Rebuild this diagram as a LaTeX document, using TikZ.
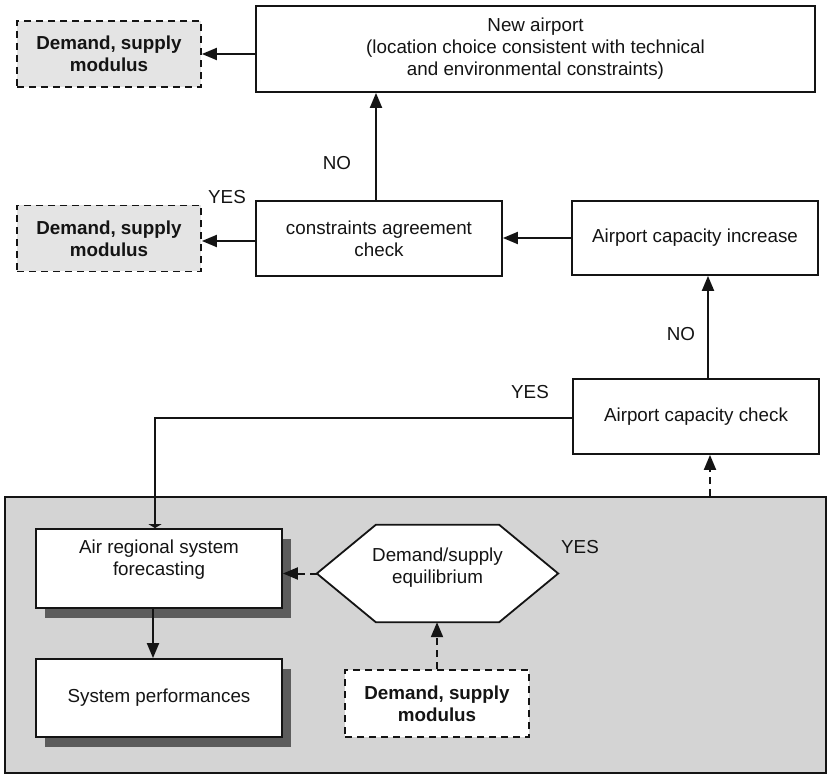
\documentclass[tikz,border=0pt]{standalone}
\usepackage{fontspec}
\setmainfont{Liberation Sans}
\usetikzlibrary{arrows.meta,shadows,calc}
\definecolor{regiongray}{RGB}{212,212,212}
\definecolor{modgray}{RGB}{228,228,228}
\definecolor{shadowgray}{RGB}{92,92,92}
\definecolor{inkc}{RGB}{20,20,20}
\begin{document}
\begin{tikzpicture}[x=1pt,y=-1pt,
  txt/.style={font=\fontsize{18.8}{22}\selectfont, text=inkc},
  procbox/.style={txt, draw=inkc, line width=1.8pt, fill=white, align=center, inner sep=0pt},
  modbox/.style={procbox, dash pattern=on 7pt off 5pt, font=\fontsize{18.8}{22}\selectfont\bfseries},
  shadowed/.style={drop shadow={shadow xshift=9pt, shadow yshift=-10pt, fill=shadowgray, opacity=1}},
  flow/.style={draw=inkc, line width=2pt, -{Triangle[length=15pt,width=12pt]}},
  dflow/.style={flow, dash pattern=on 7pt off 5pt},
  lbl/.style={txt, inner sep=0pt}
]
\useasboundingbox (0,0) rectangle (828,775);

% system region
\node[draw=inkc, line width=1.6pt, fill=regiongray, minimum width=821pt, minimum height=276pt, inner sep=0pt] (sys) at (415.5,635) {};

% boxes
\node[procbox, minimum width=559pt, minimum height=86pt] (NA) at (535.5,49)
  {New airport\\(location choice consistent with technical\\and environmental constraints)};
\node[modbox, fill=modgray, minimum width=184pt, minimum height=66pt] (DS1) at (109,54) {Demand, supply\\modulus};
\node[modbox, fill=modgray, minimum width=184pt, minimum height=66pt] (DS2) at (109,238.5) {Demand, supply\\modulus};
\node[procbox, minimum width=246pt, minimum height=75pt] (CA) at (379,238.5) {constraints agreement\\check};
\node[procbox, minimum width=246pt, minimum height=74pt] (CI) at (695,238) {Airport capacity increase};
\node[procbox, minimum width=246pt, minimum height=75pt] (CC) at (696,416.5) {Airport capacity check};
\node[procbox, shadowed, minimum width=246pt, minimum height=79pt] (F) at (159,568.5) {Air regional system\\forecasting\\\mbox{}};
\node[procbox, shadowed, minimum width=246pt, minimum height=78pt] (P) at (159,698) {System performances};
\node[txt, align=center, minimum width=241pt, minimum height=97pt, inner sep=0pt] (H) at (437.5,573.5) {Demand/supply\\equilibrium\\[-7pt]\mbox{}};
\fill[white] (H.west) -- ($(H.north west)+(59,0)$) -- ($(H.north east)+(-59,0)$) -- (H.east) -- ($(H.south east)+(-59,0)$) -- ($(H.south west)+(59,0)$) -- cycle;
\node[txt, align=center, inner sep=0pt] at (H.center) {Demand/supply\\equilibrium\\[-7pt]\mbox{}};
\draw[inkc, line width=1.8pt, line join=miter] (H.west) -- ($(H.north west)+(59,0)$) -- ($(H.north east)+(-59,0)$) -- (H.east) -- ($(H.south east)+(-59,0)$) -- ($(H.south west)+(59,0)$) -- cycle;
\node[modbox, fill=white, minimum width=184pt, minimum height=67pt] (DS3) at (437,703.5) {Demand, supply\\modulus};

% labels
\node[lbl] (noA) at (337,163) {NO};
\node[lbl] (yesA) at (227,197) {YES};
\node[lbl] (noB) at (681,334) {NO};
\node[lbl] (yesB) at (530,392) {YES};
\node[lbl] (yesC) at (580,547) {YES};

% connectors
\draw[flow] (NA.west |- DS1.east) -- (DS1.east);
\coordinate (caw) at ($(CA.west)+(0,2.5)$);
\draw[flow] (caw) -- (caw -| DS2.east);
\coordinate (can) at ($(CA.north)+(-3,0)$);
\draw[flow] (can) -- (can |- NA.south);
\draw[flow] (CI.west) -- (CI.west -| CA.east);
\coordinate (ccn) at ($(CC.north)+(12,0)$);
\draw[flow] (ccn) -- (ccn |- CI.south);
\coordinate (fn) at ($(F.north)+(-4,0)$);
\coordinate (ccw) at ($(CC.west)+(0,1.5)$);
\draw[draw=inkc, line width=2pt, -{Triangle[length=4pt,width=13pt]}] (ccw) -| (fn);
\coordinate (ccs) at ($(CC.south)+(14,0)$);
\draw[dflow] (ccs |- sys.north) -- (ccs);
\draw[dflow] (H.west) -- (H.west -| F.east);
\coordinate (fs) at ($(F.south)+(-6,0)$);
\draw[flow] (fs) -- (fs |- P.north);
\draw[dflow] (DS3.north) -- (DS3.north |- H.south);
\end{tikzpicture}
\end{document}
